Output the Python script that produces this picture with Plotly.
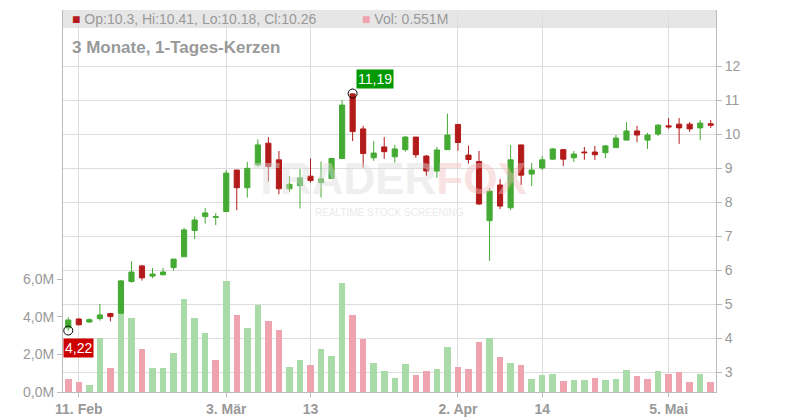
import plotly.graph_objects as go

opens  = [4.30,4.56,4.47,4.57,4.72,4.73,5.66,6.12,5.82,5.86,6.07,6.39,7.16,7.57,7.55,7.72,8.94,8.42,9.09,9.73,
          9.24,8.39,8.48,8.76,8.57,8.69,9.28,11.18,10.15,9.30,9.62,9.33,9.54,9.91,9.35,8.91,9.54,10.28,9.38,9.19,
          7.45,8.50,7.83,9.68,8.82,9.00,9.26,9.54,9.30,9.47,9.47,9.45,9.60,9.82,10.09,9.82,10.00,10.24,10.29,10.29,
          10.18,10.30]
highs  = [4.61,4.58,4.58,5.00,4.74,5.71,6.26,6.15,6.06,6.06,6.32,7.24,7.57,7.82,7.67,8.94,8.94,9.18,9.84,9.91,
          9.50,8.76,8.97,9.28,9.19,9.28,11.00,11.19,10.24,9.79,9.91,9.68,9.94,9.91,9.38,9.62,10.60,10.30,9.66,9.50,
          8.41,8.68,9.68,9.68,9.15,9.35,9.59,9.56,9.50,9.62,9.65,9.68,9.97,10.35,10.24,10.03,10.29,10.47,10.47,10.35,
          10.41,10.41]
lows   = [4.22,4.37,4.45,4.51,4.49,4.71,5.63,5.69,5.76,5.84,5.98,6.39,6.91,7.36,7.32,7.72,7.76,8.13,9.04,8.60,
          8.23,8.30,7.81,8.57,8.13,8.69,9.26,9.79,9.01,9.21,9.27,9.16,9.48,9.30,8.77,8.71,9.54,9.51,9.13,7.92,
          6.27,7.79,7.76,8.50,8.47,8.94,9.24,9.06,9.18,9.24,9.24,9.29,9.60,9.82,9.76,9.56,9.94,10.15,9.71,10.06,
          9.82,10.18]
closes = [4.53,4.39,4.54,4.68,4.63,5.68,5.94,5.77,5.88,5.94,6.32,7.18,7.47,7.68,7.57,8.85,8.42,8.99,9.68,9.04,
          8.39,8.52,8.71,8.63,8.68,9.28,10.85,10.07,9.43,9.44,9.48,9.56,9.91,9.39,8.91,9.53,9.97,9.75,9.25,7.94,
          8.32,7.88,9.24,8.79,8.94,9.24,9.56,9.26,9.41,9.45,9.39,9.65,9.88,10.09,9.97,9.97,10.26,10.21,10.18,10.15,
          10.32,10.26]
volumes = [0.69,0.53,0.37,2.9,1.30,4.2,3.97,2.29,1.30,1.30,2.10,4.96,3.97,3.16,1.71,5.92,4.12,3.41,4.64,3.79,
           3.31,1.33,1.71,1.44,2.29,1.92,5.81,4.11,2.83,1.55,1.12,0.75,1.49,0.91,1.12,1.23,2.40,1.33,1.23,2.67,
           2.88,1.87,1.55,1.44,0.69,0.91,0.96,0.59,0.64,0.64,0.75,0.64,0.69,1.17,0.85,0.69,1.12,0.96,1.07,0.53,
           0.96,0.55]
vol_up = [0,0,1,1,0,1,1,0,1,1,1,1,1,1,0,1,0,1,1,0,
          0,1,1,0,1,1,1,0,0,1,1,1,1,0,0,1,1,0,0,0,
          1,0,1,0,1,1,1,0,1,1,0,1,1,1,0,0,1,0,0,0,
          1,0]
tick_idx = [1,15,23,37,45,57]
tick_txt = ["11. Feb","3. Mär","13","2. Apr","14","5. Mai"]
price_ticks = [3,4,5,6,7,8,9,10,11,12]
vol_ticks = [0,2,4,6]
vol_tick_txt = ["0,0M","2,0M","4,0M","6,0M"]

x = list(range(len(opens)))
GREEN, RED = "#44aa33", "#b31b1b"
grey = "#999999"

fig = go.Figure()
fig.add_trace(go.Bar(x=x, y=volumes, yaxis="y",
                     marker=dict(color=["#a8dba8" if u else "#eea3ae" for u in vol_up], line_width=0),
                     width=0.62, hoverinfo="skip"))
fig.add_trace(go.Candlestick(x=x, open=opens, high=highs, low=lows, close=closes, yaxis="y2",
                             increasing=dict(line=dict(color=GREEN, width=1), fillcolor=GREEN),
                             decreasing=dict(line=dict(color=RED, width=1), fillcolor=RED),
                             whiskerwidth=0))
imax = highs.index(max(highs))
fig.add_trace(go.Scatter(x=[imax, 0], y=[highs[imax], lows[0]], yaxis="y2", mode="markers",
                         marker=dict(symbol="circle-open", size=9, color="black", line_width=1)))

fig.update_layout(
    width=800, height=420, margin=dict(l=55, r=92, t=2, b=36, autoexpand=False),
    paper_bgcolor="white", plot_bgcolor="white", showlegend=False, bargap=0,
    font=dict(family="Liberation Sans, Arial", color=grey, size=14),
    xaxis=dict(range=[-0.5, 61.5], tickvals=tick_idx, ticktext=["<b>%s</b>" % t for t in tick_txt],
               showgrid=True, gridcolor="#dddddd", showline=True, linecolor="#bbbbbb", ticks="outside",
               ticklen=4, tickcolor="#bbbbbb", rangeslider=dict(visible=False),
               tickfont=dict(size=14, color=grey), zeroline=False),
    yaxis=dict(range=[0, 20.37], side="left", tickvals=vol_ticks, ticktext=vol_tick_txt,
               showgrid=False, showline=True, linecolor="#bbbbbb", ticks="outside", ticklen=5,
               tickcolor="#bbbbbb", zeroline=False),
    yaxis2=dict(range=[2.412, 13.647], side="right", overlaying="y", tickvals=price_ticks,
                showgrid=True, gridcolor="#dddddd", showline=True, linecolor="#bbbbbb",
                ticks="outside", ticklen=5, tickcolor="#bbbbbb", zeroline=False),
)
fig.add_shape(type="rect", xref="paper", yref="paper", x0=0, x1=1, y0=0.953, y1=1,
              fillcolor="#e6e6e6", line_width=0, layer="below")
fig.add_annotation(xref="paper", yref="paper", x=0.01, y=0.977, xanchor="left", yanchor="middle",
                   showarrow=False, text="<span style='color:#b31b1b'>■</span> Op:10.3, Hi:10.41, Lo:10.18, Cl:10.26",
                   font=dict(size=14, color=grey))
fig.add_annotation(xref="paper", yref="paper", x=0.455, y=0.977, xanchor="left", yanchor="middle",
                   showarrow=False, text="<span style='color:#eea3ae'>■</span> Vol: 0.551M",
                   font=dict(size=14, color=grey))
fig.add_annotation(xref="paper", yref="paper", x=0.01, y=0.903, xanchor="left", yanchor="middle",
                   showarrow=False, text="<b>3 Monate, 1-Tages-Kerzen</b>", font=dict(size=17, color=grey))
fig.add_annotation(xref="paper", yref="paper", x=0.5, y=0.56, showarrow=False, opacity=0.45,
                   text="<b>TRADER<span style='color:#f2c0c0'>FOX</span></b>", font=dict(size=44, color="#dddddd"))
fig.add_annotation(xref="paper", yref="paper", x=0.5, y=0.47, showarrow=False, opacity=0.6,
                   text="REALTIME STOCK SCREENING", font=dict(size=10, color="#dddddd"))
fig.add_annotation(x=imax, y=highs[imax], yref="y2", showarrow=False, xanchor="left", yanchor="bottom",
                   xshift=3, yshift=5, text="11,19", bgcolor="#009900", font=dict(color="white", size=14),
                   borderpad=1)
fig.add_annotation(x=0, y=lows[0], yref="y2", showarrow=False, xanchor="left", yanchor="top",
                   xshift=-5, yshift=-7, text="4,22", bgcolor="#cc0000", font=dict(color="white", size=14),
                   borderpad=1)
fig.write_html("out.html")
